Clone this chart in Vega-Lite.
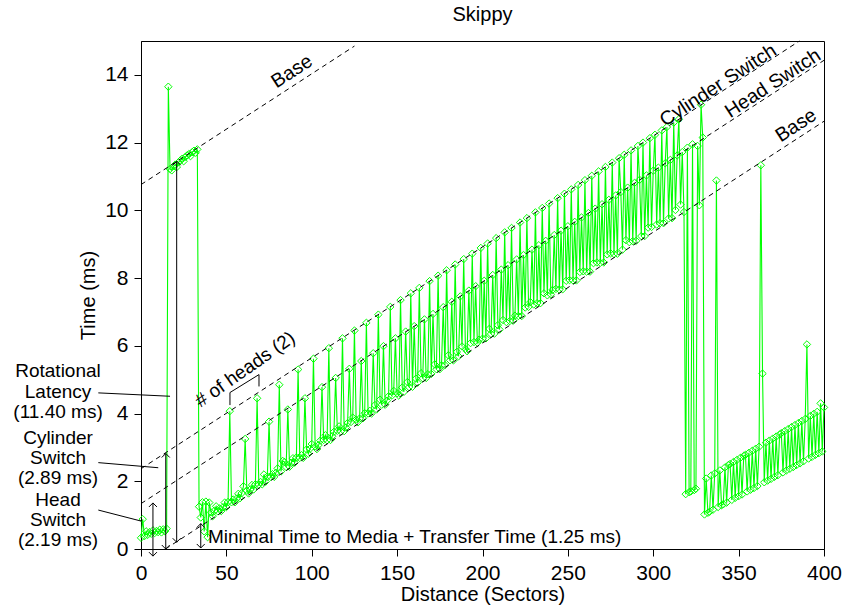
{
"$schema":"https://vega.github.io/schema/vega-lite/v6.json",
"width":683,"height":508,
"autosize":{"type":"none"},
"padding":{"left":141,"top":41,"right":23,"bottom":62},
"background":"white",
"config":{"font":"Liberation Sans","view":{"stroke":"black","strokeWidth":1},"axis":{"grid":false,"domainColor":"black","tickColor":"black","labelColor":"black","titleColor":"black","titleFontWeight":"normal","labelFont":"Liberation Sans","titleFont":"Liberation Sans"}},
"title":{"text":"Skippy","fontSize":20,"fontWeight":"normal","anchor":"middle","offset":14,"font":"Liberation Sans","color":"black"},
"datasets":{
"pts":[{"x":0,"y":0.33},{"x":1,"y":0.88},{"x":2,"y":0.38},{"x":3,"y":0.52},{"x":4,"y":0.42},{"x":5,"y":0.5},{"x":6,"y":0.45},{"x":7,"y":0.55},{"x":8,"y":0.47},{"x":9,"y":0.53},{"x":10,"y":0.5},{"x":11,"y":0.57},{"x":12,"y":0.49},{"x":13,"y":0.58},{"x":14,"y":0.52},{"x":15,"y":0.6},{"x":16,"y":13.65},{"x":17,"y":11.22},{"x":18,"y":11.18},{"x":19,"y":11.3},{"x":20,"y":11.35},{"x":21,"y":11.28},{"x":22,"y":11.42},{"x":23,"y":11.47},{"x":24,"y":11.52},{"x":25,"y":11.45},{"x":26,"y":11.58},{"x":27,"y":11.62},{"x":28,"y":11.66},{"x":29,"y":11.6},{"x":30,"y":11.72},{"x":31,"y":11.76},{"x":32,"y":11.7},{"x":33,"y":11.8},{"x":34,"y":1.25},{"x":35,"y":0.93},{"x":36,"y":1.38},{"x":37,"y":0.52},{"x":38,"y":1.4},{"x":39,"y":0.35},{"x":40,"y":1.37},{"x":41,"y":1.08},{"x":42,"y":0.97},{"x":43,"y":1.13},{"x":44,"y":1.26},{"x":45,"y":1.11},{"x":46,"y":1.2},{"x":47,"y":1.12},{"x":48,"y":1.23},{"x":49,"y":1.37},{"x":50,"y":1.24},{"x":51,"y":1.39},{"x":52,"y":4.07},{"x":53,"y":1.38},{"x":54,"y":1.46},{"x":55,"y":1.38},{"x":56,"y":1.49},{"x":57,"y":1.63},{"x":58,"y":1.5},{"x":59,"y":1.65},{"x":60,"y":1.85},{"x":61,"y":3.25},{"x":62,"y":1.72},{"x":63,"y":1.64},{"x":64,"y":1.76},{"x":65,"y":1.89},{"x":66,"y":1.76},{"x":67,"y":1.91},{"x":68,"y":4.45},{"x":69,"y":1.9},{"x":70,"y":1.98},{"x":71,"y":1.91},{"x":72,"y":2.2},{"x":73,"y":1.99},{"x":74,"y":2.14},{"x":75,"y":3.76},{"x":76,"y":2.13},{"x":77,"y":2.21},{"x":78,"y":2.13},{"x":79,"y":2.25},{"x":80,"y":2.38},{"x":81,"y":4.85},{"x":82,"y":2.29},{"x":83,"y":2.6},{"x":84,"y":2.57},{"x":85,"y":2.42},{"x":86,"y":4.12},{"x":87,"y":2.43},{"x":88,"y":2.54},{"x":89,"y":2.68},{"x":90,"y":2.55},{"x":91,"y":2.7},{"x":92,"y":5.3},{"x":93,"y":2.69},{"x":94,"y":2.77},{"x":95,"y":2.69},{"x":96,"y":4.45},{"x":97,"y":2.94},{"x":98,"y":2.81},{"x":99,"y":2.96},{"x":100,"y":3.1},{"x":101,"y":5.62},{"x":102,"y":3.03},{"x":103,"y":2.95},{"x":104,"y":3.07},{"x":105,"y":3.2},{"x":106,"y":4.78},{"x":107,"y":3.22},{"x":108,"y":3.36},{"x":109,"y":3.21},{"x":110,"y":5.93},{"x":111,"y":3.22},{"x":112,"y":3.33},{"x":113,"y":3.46},{"x":114,"y":5.05},{"x":115,"y":3.49},{"x":116,"y":3.62},{"x":117,"y":3.47},{"x":118,"y":6.22},{"x":119,"y":3.48},{"x":120,"y":3.59},{"x":121,"y":3.72},{"x":122,"y":5.32},{"x":123,"y":3.75},{"x":124,"y":3.88},{"x":125,"y":6.45},{"x":126,"y":3.82},{"x":127,"y":3.74},{"x":128,"y":3.85},{"x":129,"y":5.55},{"x":130,"y":3.86},{"x":131,"y":4.01},{"x":132,"y":6.68},{"x":133,"y":4.0},{"x":134,"y":4.08},{"x":135,"y":4.0},{"x":136,"y":5.78},{"x":137,"y":4.25},{"x":138,"y":4.12},{"x":139,"y":6.92},{"x":140,"y":4.41},{"x":141,"y":4.26},{"x":142,"y":5.99},{"x":143,"y":4.26},{"x":144,"y":4.38},{"x":145,"y":4.51},{"x":146,"y":7.15},{"x":147,"y":4.53},{"x":148,"y":4.67},{"x":149,"y":6.22},{"x":150,"y":4.6},{"x":151,"y":4.53},{"x":152,"y":7.35},{"x":153,"y":4.77},{"x":154,"y":4.64},{"x":155,"y":6.42},{"x":156,"y":4.93},{"x":157,"y":4.78},{"x":158,"y":7.55},{"x":159,"y":4.79},{"x":160,"y":6.58},{"x":161,"y":5.03},{"x":162,"y":4.91},{"x":163,"y":7.71},{"x":164,"y":5.19},{"x":165,"y":5.04},{"x":166,"y":6.78},{"x":167,"y":5.05},{"x":168,"y":5.16},{"x":169,"y":7.91},{"x":170,"y":5.17},{"x":171,"y":6.94},{"x":172,"y":5.45},{"x":173,"y":5.31},{"x":174,"y":8.07},{"x":175,"y":5.31},{"x":176,"y":5.42},{"x":177,"y":7.14},{"x":178,"y":5.43},{"x":179,"y":8.23},{"x":180,"y":5.72},{"x":181,"y":5.57},{"x":182,"y":7.3},{"x":183,"y":5.57},{"x":184,"y":8.4},{"x":185,"y":5.82},{"x":186,"y":5.69},{"x":187,"y":7.46},{"x":188,"y":5.98},{"x":189,"y":8.56},{"x":190,"y":5.91},{"x":191,"y":5.84},{"x":192,"y":7.63},{"x":193,"y":6.08},{"x":194,"y":8.72},{"x":195,"y":6.11},{"x":196,"y":7.76},{"x":197,"y":6.09},{"x":198,"y":6.18},{"x":199,"y":8.89},{"x":200,"y":6.21},{"x":201,"y":7.92},{"x":202,"y":6.22},{"x":203,"y":9.02},{"x":204,"y":6.5},{"x":205,"y":6.35},{"x":206,"y":8.09},{"x":207,"y":6.36},{"x":208,"y":9.18},{"x":209,"y":6.61},{"x":210,"y":6.48},{"x":211,"y":8.25},{"x":212,"y":6.76},{"x":213,"y":9.35},{"x":214,"y":6.7},{"x":215,"y":8.38},{"x":216,"y":6.73},{"x":217,"y":9.48},{"x":218,"y":6.74},{"x":219,"y":6.89},{"x":220,"y":8.55},{"x":221,"y":6.88},{"x":222,"y":9.64},{"x":223,"y":6.88},{"x":224,"y":8.68},{"x":225,"y":7.13},{"x":226,"y":9.77},{"x":227,"y":7.15},{"x":228,"y":7.29},{"x":229,"y":8.84},{"x":230,"y":7.22},{"x":231,"y":9.94},{"x":232,"y":7.26},{"x":233,"y":8.97},{"x":234,"y":7.26},{"x":235,"y":10.07},{"x":236,"y":7.55},{"x":237,"y":9.1},{"x":238,"y":7.49},{"x":239,"y":10.2},{"x":240,"y":7.52},{"x":241,"y":7.65},{"x":242,"y":9.27},{"x":243,"y":7.68},{"x":244,"y":10.36},{"x":245,"y":7.66},{"x":246,"y":9.4},{"x":247,"y":7.67},{"x":248,"y":10.49},{"x":249,"y":7.92},{"x":250,"y":9.53},{"x":251,"y":7.94},{"x":252,"y":10.62},{"x":253,"y":7.93},{"x":254,"y":9.66},{"x":255,"y":7.93},{"x":256,"y":10.75},{"x":257,"y":8.18},{"x":258,"y":9.79},{"x":259,"y":8.2},{"x":260,"y":10.89},{"x":261,"y":8.19},{"x":262,"y":9.92},{"x":263,"y":8.19},{"x":264,"y":11.02},{"x":265,"y":8.44},{"x":266,"y":10.05},{"x":267,"y":8.46},{"x":268,"y":11.15},{"x":269,"y":8.45},{"x":270,"y":10.18},{"x":271,"y":8.46},{"x":272,"y":11.28},{"x":273,"y":8.7},{"x":274,"y":10.31},{"x":275,"y":8.73},{"x":276,"y":11.41},{"x":277,"y":8.71},{"x":278,"y":10.44},{"x":279,"y":8.72},{"x":280,"y":11.54},{"x":281,"y":10.54},{"x":282,"y":8.84},{"x":283,"y":11.64},{"x":284,"y":9.12},{"x":285,"y":10.67},{"x":286,"y":9.06},{"x":287,"y":11.77},{"x":288,"y":9.09},{"x":289,"y":10.81},{"x":290,"y":9.1},{"x":291,"y":11.9},{"x":292,"y":10.9},{"x":293,"y":9.24},{"x":294,"y":12.0},{"x":295,"y":9.24},{"x":296,"y":11.03},{"x":297,"y":9.49},{"x":298,"y":12.13},{"x":299,"y":9.51},{"x":300,"y":11.17},{"x":301,"y":12.23},{"x":302,"y":9.58},{"x":303,"y":11.26},{"x":304,"y":9.62},{"x":305,"y":12.36},{"x":306,"y":9.62},{"x":307,"y":11.39},{"x":308,"y":12.46},{"x":309,"y":9.76},{"x":310,"y":11.49},{"x":311,"y":9.77},{"x":312,"y":12.59},{"x":313,"y":10.01},{"x":314,"y":11.62},{"x":315,"y":12.69},{"x":316,"y":10.17},{"x":317,"y":11.72},{"x":318,"y":9.95},{"x":319,"y":1.62},{"x":320,"y":11.85},{"x":321,"y":1.68},{"x":322,"y":1.7},{"x":323,"y":11.95},{"x":324,"y":1.74},{"x":325,"y":1.78},{"x":326,"y":11.9},{"x":327,"y":10.15},{"x":328,"y":13.12},{"x":329,"y":12.15},{"x":330,"y":1.02},{"x":331,"y":2.08},{"x":332,"y":1.07},{"x":333,"y":1.1},{"x":334,"y":2.17},{"x":335,"y":1.16},{"x":336,"y":2.23},{"x":337,"y":10.88},{"x":338,"y":1.24},{"x":339,"y":2.32},{"x":340,"y":1.29},{"x":341,"y":1.32},{"x":342,"y":2.41},{"x":343,"y":1.37},{"x":344,"y":2.48},{"x":345,"y":2.51},{"x":346,"y":1.45},{"x":347,"y":2.57},{"x":348,"y":1.51},{"x":349,"y":2.63},{"x":350,"y":1.56},{"x":351,"y":2.69},{"x":352,"y":1.61},{"x":353,"y":2.75},{"x":354,"y":2.78},{"x":355,"y":1.7},{"x":356,"y":2.84},{"x":357,"y":1.75},{"x":358,"y":2.9},{"x":359,"y":1.8},{"x":360,"y":2.96},{"x":361,"y":1.86},{"x":362,"y":3.02},{"x":363,"y":11.33},{"x":364,"y":5.18},{"x":365,"y":1.97},{"x":366,"y":3.14},{"x":367,"y":2.02},{"x":368,"y":3.2},{"x":369,"y":2.07},{"x":370,"y":3.26},{"x":371,"y":2.13},{"x":372,"y":3.32},{"x":373,"y":2.18},{"x":374,"y":3.38},{"x":375,"y":3.42},{"x":376,"y":2.26},{"x":377,"y":3.48},{"x":378,"y":2.32},{"x":379,"y":3.54},{"x":380,"y":2.37},{"x":381,"y":3.6},{"x":382,"y":2.42},{"x":383,"y":3.66},{"x":384,"y":2.48},{"x":385,"y":3.72},{"x":386,"y":2.53},{"x":387,"y":3.78},{"x":388,"y":2.59},{"x":389,"y":3.84},{"x":390,"y":6.04},{"x":391,"y":2.67},{"x":392,"y":3.93},{"x":393,"y":2.72},{"x":394,"y":3.99},{"x":395,"y":2.78},{"x":396,"y":4.05},{"x":397,"y":2.83},{"x":398,"y":4.3},{"x":399,"y":2.88},{"x":400,"y":4.18}],
"dl":[{"k":"b","x":14.3,"y":0},{"k":"b","x":400,"y":12.63},{"k":"h","x":0,"y":1.34},{"k":"h","x":400,"y":14.43},{"k":"c","x":0,"y":2.37},{"k":"c","x":385.6,"y":15},{"k":"u","x":0,"y":10.76},{"k":"u","x":125,"y":14.85}],
"arrows":[{"x":7,"y":-0.21,"yt":1.36},{"x":14.5,"y":0,"yt":2.82},{"x":20.9,"y":0.2,"yt":11.45},{"x":35,"y":0.03,"yt":0.75}],
"heads":[{"x":7,"y":1.36,"d":"u"},{"x":7,"y":-0.21,"d":"d"},{"x":14.5,"y":2.82,"d":"u"},{"x":14.5,"y":0,"d":"d"},{"x":20.9,"y":11.45,"d":"u"},{"x":20.9,"y":0.2,"d":"d"},{"x":35,"y":0.75,"d":"u"},{"x":35,"y":0.03,"d":"d"}],
"leaders":[{"id":"r","o":0,"x":-25,"y":4.61},{"id":"r","o":1,"x":17,"y":4.51},{"id":"c","o":0,"x":-25,"y":2.55},{"id":"c","o":1,"x":10.1,"y":2.4},{"id":"h","o":0,"x":-25,"y":1.15},{"id":"h","o":1,"x":0.4,"y":0.82},{"id":"k","o":0,"x":52.1,"y":4.25},{"id":"k","o":1,"x":52.1,"y":4.62},{"id":"k","o":2,"x":69.1,"y":5.15},{"id":"k","o":3,"x":69.1,"y":4.8}],
"side":[{"x":-48.6,"y":5.27,"t":"Rotational"},{"x":-48.6,"y":4.65,"t":"Latency"},{"x":-48.6,"y":4.06,"t":"(11.40 ms)"},{"x":-48.6,"y":3.29,"t":"Cylinder"},{"x":-48.6,"y":2.7,"t":"Switch"},{"x":-48.6,"y":2.11,"t":"(2.89 ms)"},{"x":-48.6,"y":1.46,"t":"Head"},{"x":-48.6,"y":0.87,"t":"Switch"},{"x":-48.6,"y":0.28,"t":"(2.19 ms)"}],
"minimal":[{"x":39.2,"y":0.34,"t":"Minimal Time to Media + Transfer Time (1.25 ms)"}],
"heads2":[{"x":60.9,"y":5.3,"t":"# of heads (2)"}],
"linelabels":[{"x":88.4,"y":14.1,"t":"Base"},{"x":338,"y":13.69,"t":"Cylinder Switch"},{"x":370.1,"y":13.75,"t":"Head Switch"},{"x":383.6,"y":12.51,"t":"Base"}]
},
"encoding":{
"x":{"field":"x","type":"quantitative","scale":{"domain":[0,400],"nice":false,"zero":false},"axis":{"title":"Distance (Sectors)","values":[0,50,100,150,200,250,300,350,400],"labelFontSize":21,"tickSize":7,"labelPadding":6,"titleFontSize":20,"titlePadding":1,"labelFlush":false,"labelOverlap":false}},
"y":{"field":"y","type":"quantitative","scale":{"domain":[0,15],"nice":false,"zero":false},"axis":{"title":"Time (ms)","values":[0,2,4,6,8,10,12,14],"labelFontSize":21,"tickSize":7,"labelPadding":6,"titleFontSize":20,"titlePadding":6,"labelOverlap":false}}
},
"layer":[
{"data":{"name":"pts"},"mark":{"type":"line","color":"#00ff00","strokeWidth":1.1}},
{"data":{"name":"pts"},"mark":{"type":"point","shape":"diamond","filled":false,"color":"#00ff00","size":55,"strokeWidth":1,"opacity":1}},
{"data":{"name":"dl"},"mark":{"type":"line","color":"black","strokeWidth":1,"strokeDash":[5,4]},"encoding":{"detail":{"field":"k"}}},
{"data":{"name":"arrows"},"mark":{"type":"rule","color":"black","strokeWidth":1},"encoding":{"y2":{"field":"yt"}}},
{"data":{"name":"heads"},"transform":[{"filter":"datum.d == 'u'"}],"mark":{"type":"point","shape":"M-1,1L0,0L1,1","filled":false,"color":"black","size":64,"strokeWidth":1,"opacity":1}},
{"data":{"name":"heads"},"transform":[{"filter":"datum.d == 'd'"}],"mark":{"type":"point","shape":"M-1,-1L0,0L1,-1","filled":false,"color":"black","size":64,"strokeWidth":1,"opacity":1}},
{"data":{"name":"leaders"},"mark":{"type":"line","color":"black","strokeWidth":1},"encoding":{"detail":{"field":"id"},"order":{"field":"o"}}},
{"data":{"name":"side"},"mark":{"type":"text","fontSize":19,"align":"center","baseline":"middle","color":"black"},"encoding":{"text":{"field":"t"}}},
{"data":{"name":"minimal"},"mark":{"type":"text","fontSize":19,"align":"left","baseline":"middle","color":"black"},"encoding":{"text":{"field":"t"}}},
{"data":{"name":"heads2"},"mark":{"type":"text","fontSize":19,"align":"center","baseline":"middle","angle":-35,"color":"black"},"encoding":{"text":{"field":"t"}}},
{"data":{"name":"linelabels"},"mark":{"type":"text","fontSize":19.5,"align":"center","baseline":"middle","angle":-33,"color":"black"},"encoding":{"text":{"field":"t"}}}
]
}
